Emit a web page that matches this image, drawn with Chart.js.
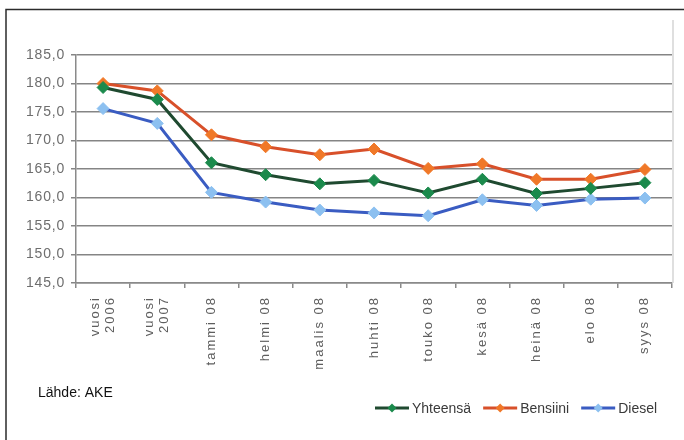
<!DOCTYPE html>
<html>
<head>
<meta charset="utf-8">
<script src="https://cdn.jsdelivr.net/npm/chart.js@4/dist/chart.umd.min.js"></script>
<style>
  html, body { margin: 0; padding: 0; background: #ffffff; }
  #wrap { position: relative; width: 684px; height: 440px; }
</style>
</head>
<body>
<div id="wrap"><canvas id="c" width="684" height="440"></canvas></div>
<script>
// Monthly average prices (snt/l)
const categories = [['vuosi', '2006'], ['vuosi', '2007'], 'tammi 08', 'helmi 08', 'maalis 08', 'huhti 08', 'touko 08', 'kesä 08', 'heinä 08', 'elo 08', 'syys 08'];
const yhteensa = [179.3, 177.2, 166.1, 164.0, 162.4, 163.0, 160.8, 163.2, 160.7, 161.6, 162.6];
const bensiini = [180.0, 178.7, 171.0, 168.9, 167.5, 168.5, 165.1, 165.9, 163.2, 163.2, 164.9];
const diesel = [175.6, 173.0, 160.9, 159.2, 157.8, 157.3, 156.8, 159.6, 158.6, 159.7, 159.9];
const yMin = 145, yMax = 185, yStep = 5;
const sourceText = 'Lähde: AKE';

const FONT = '"Liberation Sans", Arial, sans-serif';

function series(label, data, line, fill) {
  return {
    label, data,
    borderColor: line,
    backgroundColor: fill,
    borderWidth: 3,
    pointStyle: 'rectRot',
    pointRadius: 6,
    pointBackgroundColor: fill,
    pointBorderColor: fill,
    pointBorderWidth: 1,
    tension: 0
  };
}

// Wider letter spacing for axis labels; two-line labels centred on their tick
function tuneLabels(scale, spacing, centreMultiLine) {
  if (scale.__tuned) return;
  const drawOrig = scale.drawLabels.bind(scale);
  scale.drawLabels = function (area) {
    const ctx = scale.ctx;
    const prev = ctx.letterSpacing;
    ctx.letterSpacing = spacing;
    drawOrig(area);
    ctx.letterSpacing = prev || '0px';
  };
  if (centreMultiLine) {
    const computeOrig = scale._computeLabelItems.bind(scale);
    scale._computeLabelItems = function (area) {
      const items = computeOrig(area);
      items.forEach(it => {
        if (Array.isArray(it.label) && it.label.length > 1) {
          it.options.translation[0] -= 8;
        }
      });
      return items;
    };
    scale._labelItems = null;
  }
  scale.__tuned = true;
}

// Outer frame, source note and legend with line + diamond swatches
const decorations = {
  id: 'decorations',
  beforeDraw(chart) {
    tuneLabels(chart.scales.x, '2px', true);
    tuneLabels(chart.scales.y, '0.8px', false);
  },
  afterDraw(chart) {
    const ctx = chart.ctx;
    const area = chart.chartArea;
    ctx.save();
    // faint right edge of plot area
    ctx.strokeStyle = '#d4d4d4';
    ctx.lineWidth = 1.5;
    ctx.beginPath();
    ctx.moveTo(area.right + 1, 20);
    ctx.lineTo(area.right + 1, area.bottom);
    ctx.stroke();
    // frame
    ctx.strokeStyle = '#2b2b2b';
    ctx.lineWidth = 1.5;
    ctx.beginPath();
    ctx.moveTo(6, 440);
    ctx.lineTo(6, 9.5);
    ctx.lineTo(684, 9.5);
    ctx.stroke();
    // source
    ctx.fillStyle = '#111111';
    ctx.font = '14px ' + FONT;
    ctx.textBaseline = 'alphabetic';
    ctx.fillText(sourceText, 38, 397);
    // legend
    let x = 375;
    const y = 408;
    ctx.font = '14px ' + FONT;
    ctx.textBaseline = 'middle';
    chart.data.datasets.forEach(ds => {
      ctx.strokeStyle = ds.borderColor;
      ctx.lineWidth = 3;
      ctx.beginPath();
      ctx.moveTo(x, y);
      ctx.lineTo(x + 34, y);
      ctx.stroke();
      const cx = x + 17, r = 4.5;
      ctx.fillStyle = ds.pointBackgroundColor;
      ctx.beginPath();
      ctx.moveTo(cx, y - r);
      ctx.lineTo(cx + r, y);
      ctx.lineTo(cx, y + r);
      ctx.lineTo(cx - r, y);
      ctx.closePath();
      ctx.fill();
      ctx.fillStyle = '#3a3a3a';
      ctx.fillText(ds.label, x + 37, y + 1);
      x += 37 + ctx.measureText(ds.label).width + 12;
    });
    ctx.restore();
  }
};

new Chart(document.getElementById('c'), {
  type: 'line',
  data: {
    labels: categories,
    datasets: [
      series('Yhteensä', yhteensa, '#1f4a30', '#1b8a4c'),
      series('Bensiini', bensiini, '#d8502a', '#f07828'),
      series('Diesel', diesel, '#3a5cc2', '#8cc0f0')
    ]
  },
  options: {
    responsive: false,
    animation: false,
    devicePixelRatio: 1,
    layout: { padding: { top: 55, right: 12, left: 0, bottom: 0 } },
    plugins: {
      legend: { display: false },
      tooltip: { enabled: false }
    },
    scales: {
      x: {
        offset: true,
        afterFit(scale) { scale.height = 157; },
        grid: {
          offset: true,
          drawOnChartArea: false,
          drawTicks: true,
          tickLength: 5,
          color: '#8a8a8a',
          lineWidth: 1.5
        },
        border: { color: '#8a8a8a', width: 1.5 },
        ticks: {
          autoSkip: false,
          maxRotation: 90,
          minRotation: 90,
          padding: 8,
          color: '#5e5e5e',
          font: { family: FONT, size: 13 }
        }
      },
      y: {
        min: yMin,
        max: yMax,
        afterFit(scale) { scale.width = 76; },
        grid: {
          color: '#858585',
          lineWidth: 1.5,
          drawTicks: true,
          tickLength: 5
        },
        border: { color: '#8a8a8a', width: 1.5 },
        ticks: {
          stepSize: yStep,
          padding: 6,
          color: '#6e6e6e',
          font: { family: FONT, size: 14 },
          callback: v => v.toFixed(1).replace('.', ',')
        }
      }
    }
  },
  plugins: [decorations]
});
</script>
</body>
</html>
